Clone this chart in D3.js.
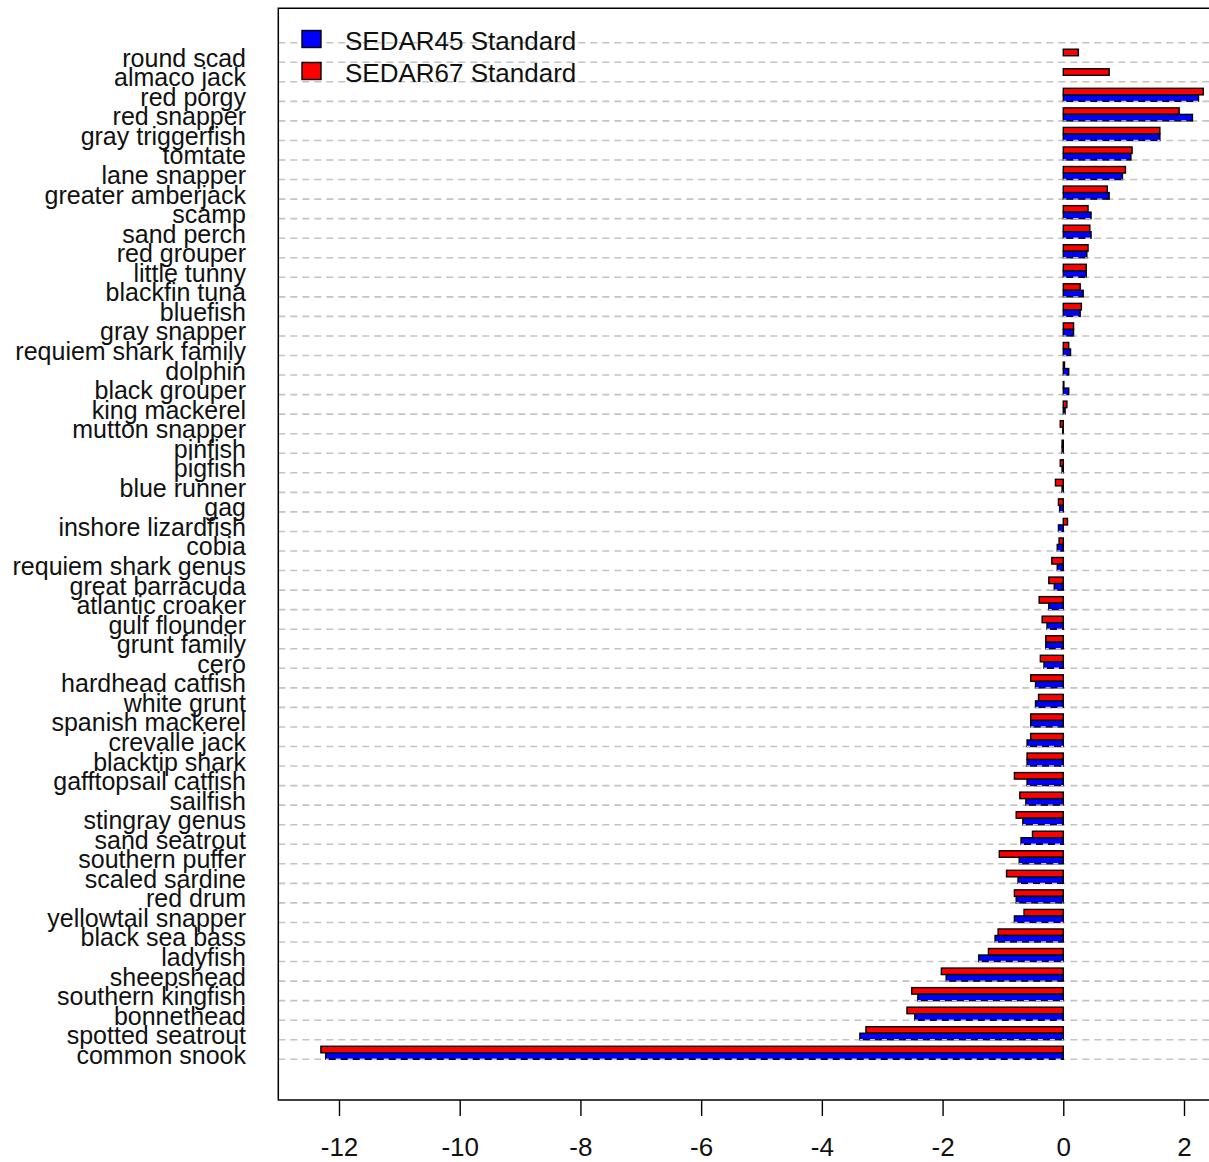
<!DOCTYPE html>
<html>
<head>
<meta charset="utf-8">
<script src="https://cdn.jsdelivr.net/npm/d3@7"></script>
<style>
  body { margin: 0; background: #fff; }
  svg { display: block; font-family: "Liberation Sans", Arial, sans-serif; }
</style>
</head>
<body>
<svg id="chart" width="1209" height="1162"></svg>
<script>
const species = ["round scad","almaco jack","red porgy","red snapper","gray triggerfish","tomtate",
  "lane snapper","greater amberjack","scamp","sand perch","red grouper","little tunny","blackfin tuna",
  "bluefish","gray snapper","requiem shark family","dolphin","black grouper","king mackerel",
  "mutton snapper","pinfish","pigfish","blue runner","gag","inshore lizardfish","cobia",
  "requiem shark genus","great barracuda","atlantic croaker","gulf flounder","grunt family","cero",
  "hardhead catfish","white grunt","spanish mackerel","crevalle jack","blacktip shark",
  "gafftopsail catfish","sailfish","stingray genus","sand seatrout","southern puffer","scaled sardine",
  "red drum","yellowtail snapper","black sea bass","ladyfish","sheepshead","southern kingfish",
  "bonnethead","spotted seatrout","common snook"];

// SEDAR67 Standard (red)
const sedar67 = [0.25,0.76,2.32,1.92,1.60,1.14,1.03,0.73,0.41,0.44,0.41,0.38,0.28,0.30,0.17,0.09,
  0.02,0.01,0.06,-0.05,-0.02,-0.05,-0.13,-0.08,0.07,-0.07,-0.19,-0.24,-0.40,-0.35,-0.29,-0.38,
  -0.54,-0.41,-0.54,-0.54,-0.60,-0.81,-0.72,-0.78,-0.51,-1.06,-0.94,-0.81,-0.65,-1.08,-1.24,
  -2.02,-2.51,-2.59,-3.27,-12.30];

// SEDAR45 Standard (blue)
const sedar45 = [null,null,2.24,2.14,1.60,1.12,0.98,0.76,0.46,0.46,0.39,0.38,0.33,0.28,0.17,0.12,
  0.09,0.09,0.03,-0.01,-0.02,-0.02,-0.02,-0.06,-0.08,-0.10,-0.10,-0.15,-0.24,-0.27,-0.29,-0.32,
  -0.46,-0.46,-0.54,-0.60,-0.60,-0.60,-0.62,-0.67,-0.70,-0.73,-0.75,-0.78,-0.81,-1.13,-1.40,
  -1.94,-2.41,-2.46,-3.37,-12.22];

const xTicks = [-12,-10,-8,-6,-4,-2,0,2];
const seriesNames = ["SEDAR67 Standard","SEDAR45 Standard"];
const seriesColors = {"SEDAR67 Standard":"#ff0000","SEDAR45 Standard":"#0000ff"};

const svg = d3.select("#chart");
const box = {left: 278.3, top: 8.3, bottom: 1100, right: 1260};

const x = d3.scaleLinear().domain([-12, 2]).range([339, 1184]);
const y = d3.scaleBand().domain(species).range([42.7, 1059.3])
  .paddingInner(1/3).paddingOuter(1/6).align(1);
const sub = d3.scaleBand().domain(seriesNames).range([0, y.bandwidth()]);

const rows = species.map((s, i) => ({name: s, vals: [
  {series: "SEDAR67 Standard", v: sedar67[i]},
  {series: "SEDAR45 Standard", v: sedar45[i]}
]}));

// grid lines (dashed grey)
const gap = y.step() - y.bandwidth();
const gridY = [y(species[0]) - gap].concat(species.map(s => y(s) + y.bandwidth()));
svg.append("g").selectAll("line").data(gridY).join("line")
  .attr("x1", box.left).attr("x2", 1209)
  .attr("y1", d => d).attr("y2", d => d)
  .attr("stroke", "#c4c4c4").attr("stroke-width", 1.6)
  .attr("stroke-dasharray", "7,5");

// bars
const groups = svg.append("g").selectAll("g").data(rows).join("g")
  .attr("transform", d => `translate(0,${y(d.name)})`);

groups.selectAll("rect").data(d => d.vals.filter(v => v.v !== null)).join("rect")
  .attr("x", d => Math.min(x(0), x(d.v)))
  .attr("y", d => sub(d.series))
  .attr("width", d => Math.abs(x(d.v) - x(0)))
  .attr("height", sub.bandwidth())
  .attr("fill", d => seriesColors[d.series])
  .attr("stroke", "#000").attr("stroke-width", 1.4);

// dashed grid over the bottom edge of blue bars
groups.selectAll("line.edge").data(d => d.vals.filter(v => v.v !== null && v.series === "SEDAR45 Standard"))
  .join("line").attr("class", "edge")
  .attr("x1", d => Math.min(x(0), x(d.v))).attr("x2", d => Math.max(x(0), x(d.v)))
  .attr("y1", y.bandwidth()).attr("y2", y.bandwidth())
  .attr("stroke", "#c8c8ff").attr("stroke-width", 1.4)
  .attr("stroke-dasharray", "5,7").attr("stroke-dashoffset", 2);

// category labels (they overlap, as in the original)
svg.append("g").selectAll("text").data(species).join("text")
  .attr("transform", d => `translate(246,${y(d) + y.bandwidth() / 2 + 11}) scale(0.962,1)`)
  .attr("text-anchor", "end")
  .attr("font-size", 26)
  .attr("fill", "#111")
  .text(d => d);

// plot box (right side falls outside the picture)
svg.append("path")
  .attr("d", `M${box.right},${box.top}H${box.left}V${box.bottom}H${box.right}`)
  .attr("fill", "none").attr("stroke", "#000").attr("stroke-width", 1.5);

// x axis
const xAxis = svg.append("g").attr("transform", `translate(0,${box.bottom})`)
  .call(d3.axisBottom(x).tickValues(xTicks).tickFormat(d3.format("d"))
    .tickSize(16).tickPadding(22).tickSizeOuter(0));
xAxis.select(".domain").remove();
xAxis.selectAll("line").attr("stroke", "#000").attr("stroke-width", 1.4);
xAxis.selectAll("text").attr("font-size", 26).attr("fill", "#111")
  .attr("font-family", "'Liberation Sans', Arial, sans-serif")
  .text(d => d < 0 ? "-" + Math.abs(d) : d);

// legend
const legendOrder = ["SEDAR45 Standard","SEDAR67 Standard"];
const legend = svg.append("g").selectAll("g").data(legendOrder).join("g")
  .attr("transform", (d, i) => `translate(302,${39 + i * 32})`);
legend.append("rect")
  .attr("x", 0).attr("y", -8.5).attr("width", 19).attr("height", 17)
  .attr("fill", d => seriesColors[d]).attr("stroke", "#000").attr("stroke-width", 1.4);
legend.append("text")
  .attr("x", 43).attr("y", 11)
  .attr("font-size", 26).attr("fill", "#111")
  .text(d => d);
</script>
</body>
</html>
